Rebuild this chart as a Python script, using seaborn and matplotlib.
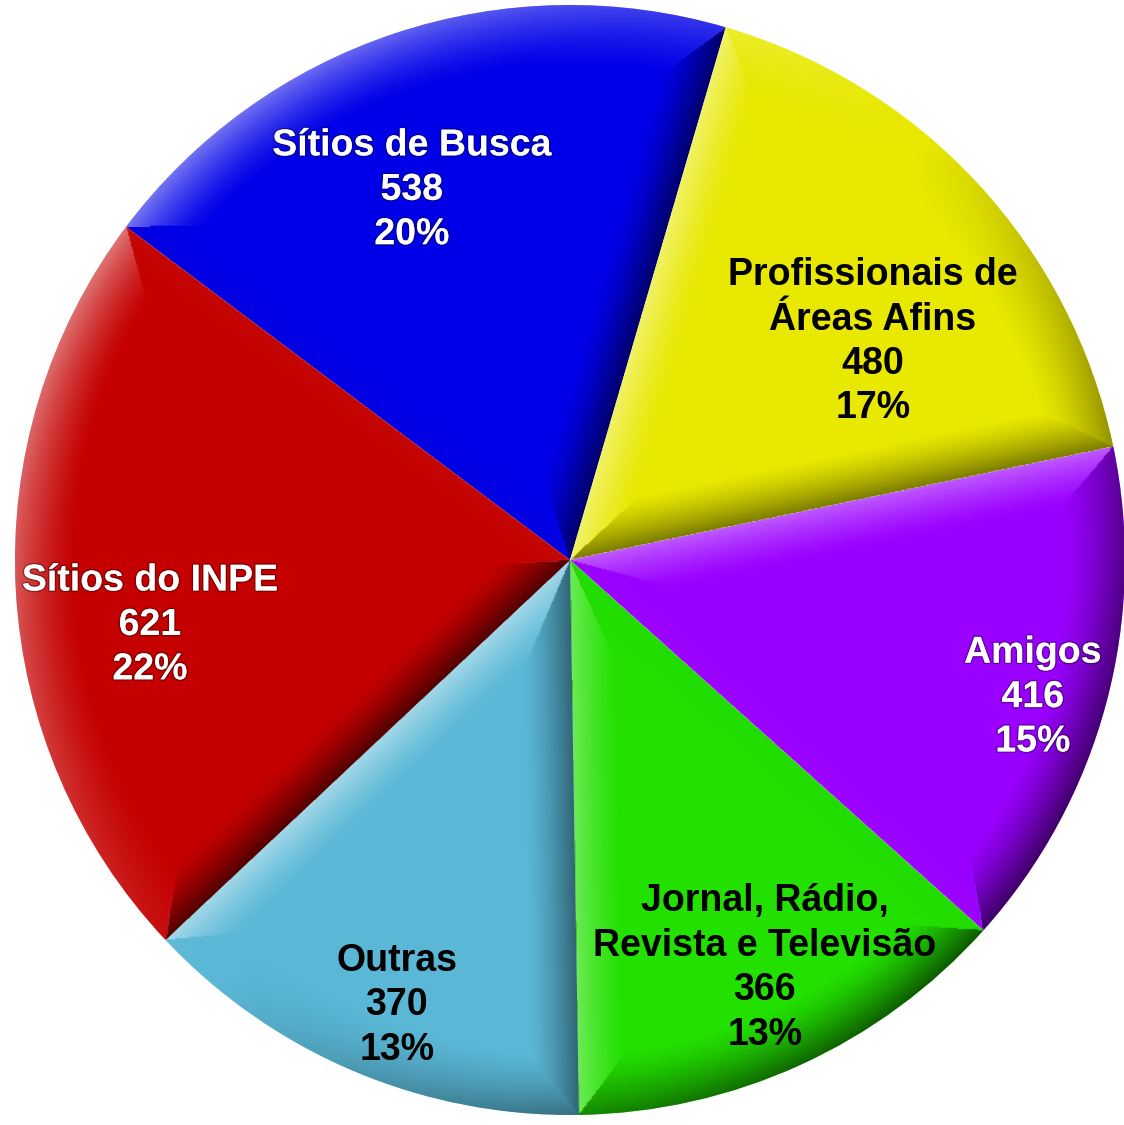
"""Pizza: como conheceu o curso — origem das indicações."""
import matplotlib
matplotlib.use("Agg")
import matplotlib.pyplot as plt
import matplotlib.patheffects as pe
import numpy as np
import seaborn as sns

categorias = ["Sítios de Busca", "Profissionais de\nÁreas Afins", "Amigos",
              "Jornal, Rádio,\nRevista e Televisão", "Outras", "Sítios do INPE"]
valores = [538, 480, 416, 366, 370, 621]
percentuais = ["20%", "17%", "15%", "13%", "13%", "22%"]
cores = ["#0000e8", "#e8e800", "#9a00ff", "#22e000", "#5ab8d6", "#c40000"]
cor_texto = ["white", "black", "white", "black", "black", "white"]
# posição dos rótulos (fração do raio)
pos_rotulos = [(-0.285, 0.667), (0.546, 0.393), (0.834, -0.247),
               (0.351, -0.735), (-0.312, -0.802), (-0.757, -0.117)]

sns.set_theme(style="white")
plt.rcParams["font.family"] = ["Liberation Sans", "DejaVu Sans"]

fig = plt.figure(figsize=(11.24, 11.25), dpi=100)
ax = fig.add_axes([0, 0, 1, 1])

wedges, _ = ax.pie(valores, colors=cores, startangle=143.1, counterclock=False,
                   radius=1.0, wedgeprops=dict(linewidth=0))

# relevo tipo "bisel": cada fatia sombreada pela borda mais próxima
n = 900
xs = np.linspace(-1.05, 1.05, n)
X, Y = np.meshgrid(xs, xs[::-1])
R = np.hypot(X, Y)
PHI = np.degrees(np.arctan2(Y, X))
LUZ = 140.0
for w in wedges:
    t1, t2 = w.theta1, w.theta2
    span = (t2 - t1) % 360
    a = (PHI - t1) % 360
    d1 = R * np.sin(np.radians(np.clip(a, 0, 90)))
    d2 = R * np.sin(np.radians(np.clip(span - a, 0, 90)))
    d_rim = (1 - R) * 0.8
    dists = np.stack([d1, d2, d_rim])
    normais = np.stack([np.full_like(R, t1 - 90), np.full_like(R, t2 + 90), PHI])
    idx = np.argmin(dists, axis=0)
    d = np.take_along_axis(dists, idx[None], 0)[0]
    nrm = np.take_along_axis(normais, idx[None], 0)[0]
    faixa = np.clip(1 - d / 0.09, 0, 1) ** 1.4
    luz = np.cos(np.radians(nrm - LUZ))
    rgba = np.zeros((n, n, 4))
    rgba[..., :3] = np.where((luz > 0)[..., None], 1.0, 0.0)
    rgba[..., 3] = faixa * np.abs(luz) * np.where(luz > 0, 0.45, 0.6)
    im = ax.imshow(rgba, extent=(-1.05, 1.05, -1.05, 1.05), zorder=2,
                   interpolation="bilinear")
    im.set_clip_path(w)

for i, w in enumerate(wedges):
    x, y = pos_rotulos[i]
    texto = f"{categorias[i]}\n{valores[i]}\n{percentuais[i]}"
    efeitos = [pe.withStroke(linewidth=2, foreground="#00000055")] if cor_texto[i] == "white" else []
    ax.text(x, y, texto, ha="center", va="center", fontsize=27, fontweight="bold",
            color=cor_texto[i], linespacing=1.3, zorder=5, path_effects=efeitos)

ax.set_xlim(-570 / 555, 554 / 555)
ax.set_ylim(-565 / 555, 560 / 555)
ax.set_aspect("equal")
ax.axis("off")
fig.savefig("out.png", dpi=100, facecolor="white")
